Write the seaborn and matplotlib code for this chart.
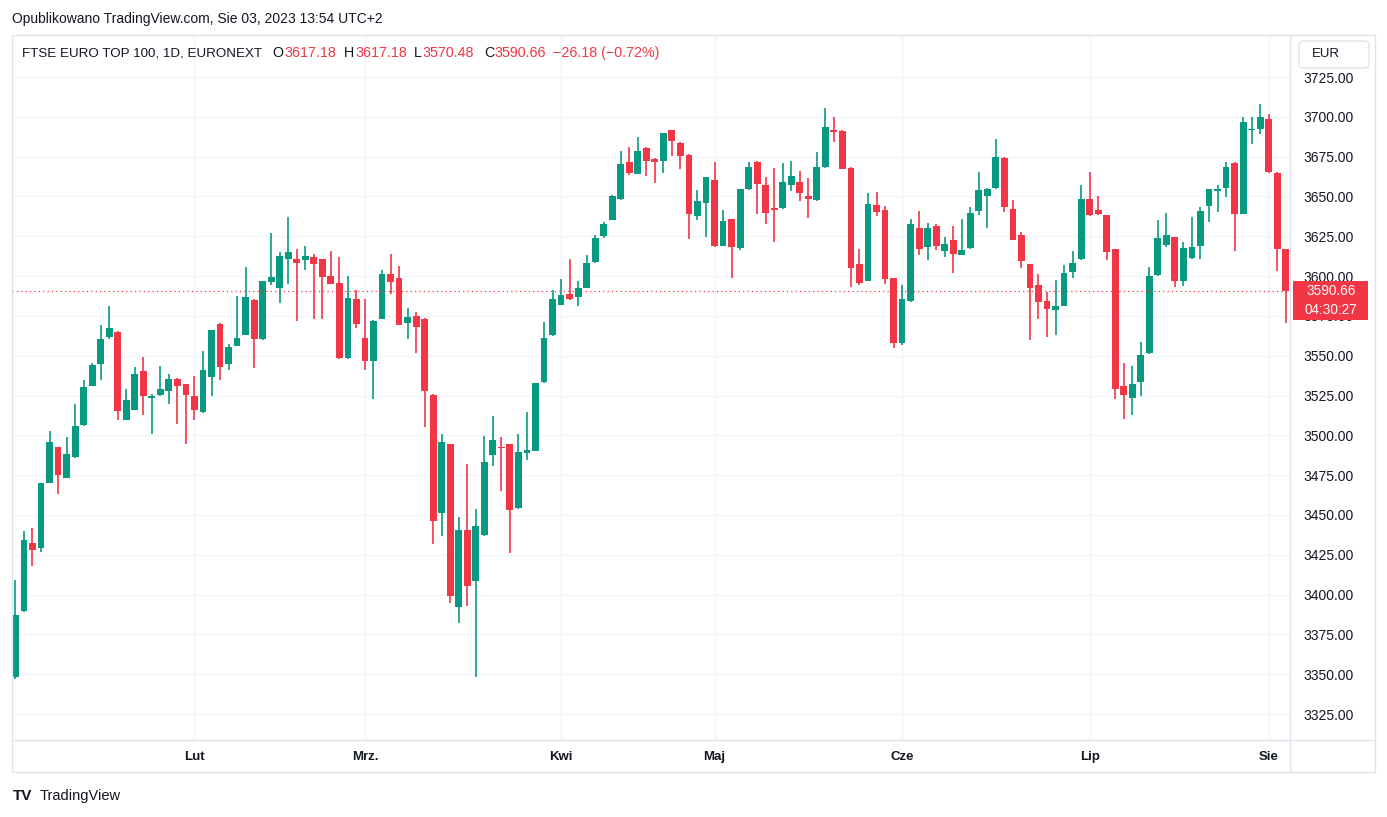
import numpy as np
import pandas as pd
import matplotlib
matplotlib.use("Agg")
import matplotlib.pyplot as plt
import seaborn as sns
from matplotlib.patches import Rectangle, FancyBboxPatch
from matplotlib.lines import Line2D

# daily OHLC, FTSE EURO TOP 100, Jan 3 - Aug 3 2023
opens = [3348, 3390, 3432.5, 3429, 3470, 3492.5, 3473, 3486.5, 3506.5, 3531,
         3545, 3562, 3565, 3509.6, 3516, 3540.6, 3523.3, 3525.6, 3527.7, 3535.6,
         3532, 3525, 3514.6, 3536.5, 3570, 3544.6, 3556.3, 3563, 3585, 3560.8,
         3596.5, 3592.7, 3610.8, 3610.6, 3610, 3612, 3610.6, 3600, 3595.6, 3548.3,
         3585.6, 3561.3, 3546.5, 3573.3, 3601.2, 3598.7, 3570.8, 3575, 3573, 3525.6,
         3451.5, 3494.4, 3392, 3440.6, 3408.4, 3437.7, 3487.7, 3492.5, 3494.4, 3454.6,
         3489, 3490.2, 3533.3, 3563.1, 3582.1, 3588.7, 3586.9, 3592.5, 3609, 3625,
         3635.2, 3648.3, 3671.9, 3664, 3680.6, 3673.7, 3672.1, 3691.9, 3683.7, 3676.2,
         3637.7, 3645.8, 3660.6, 3619, 3635.6, 3617.7, 3654.6, 3671.9, 3657.5, 3642.5,
         3642.7, 3657.1, 3659.4, 3650.6, 3647.7, 3668.3, 3691.9, 3691.2, 3668.1, 3607.5,
         3597.1, 3644.4, 3641.3, 3598.8, 3557.7, 3584.6, 3630, 3618.3, 3631.3, 3615.8,
         3622.5, 3613.3, 3617.7, 3640.8, 3650.2, 3655.2, 3674.4, 3641.9, 3625.6, 3607.5,
         3594.4, 3584.4, 3579, 3581.5, 3602.7, 3610.8, 3648.7, 3641.2, 3638.1, 3616.9,
         3531.3, 3523.3, 3533.5, 3552, 3600.8, 3619.6, 3624.4, 3597.1, 3611.5, 3619,
         3644, 3653.3, 3655.2, 3671.3, 3639, 3691.5, 3692.1, 3698.7, 3665, 3617.18]
highs = [3409, 3440, 3442, 3470, 3502.5, 3493, 3499, 3520, 3535, 3545.6,
         3569.4, 3581, 3565.5, 3529, 3543, 3549.4, 3526, 3543.8, 3538.8, 3536,
         3532.5, 3537, 3552.7, 3566, 3570.5, 3557.5, 3587.5, 3605.6, 3585.5, 3597,
         3627, 3615, 3637, 3617, 3618.7, 3613.8, 3611, 3615.6, 3612, 3600,
         3591.2, 3585.6, 3572.5, 3603.7, 3613.7, 3606.2, 3580, 3577.5, 3573.5, 3526,
         3500.6, 3494.8, 3448.8, 3482, 3453.8, 3499.6, 3512, 3498.8, 3494.8, 3500.6,
         3514.4, 3533.1, 3571.3, 3591.2, 3598.1, 3610.6, 3596.9, 3613.1, 3626, 3634,
         3651.2, 3678.7, 3681.2, 3687.5, 3681, 3674.4, 3690, 3692, 3684, 3676.5,
         3653.8, 3662.5, 3671.9, 3641.3, 3636, 3655, 3671.9, 3672, 3662.5, 3668.1,
         3671.3, 3672.5, 3666.3, 3661.3, 3678.1, 3705.6, 3700, 3691.5, 3668.5, 3616.9,
         3651.9, 3653.1, 3643.8, 3599, 3594.4, 3635.6, 3640.6, 3633.1, 3632.5, 3624.4,
         3631.3, 3635.6, 3643.1, 3665.6, 3655.6, 3686.2, 3674.8, 3647.5, 3627.5, 3607.8,
         3601.3, 3590, 3597.7, 3606.9, 3615.6, 3656.9, 3665.6, 3650, 3638.5, 3617.2,
         3545.6, 3543.8, 3558.6, 3605.6, 3635, 3639.4, 3624.8, 3621.3, 3636.9, 3643.1,
         3655, 3657.5, 3671.9, 3671.5, 3700, 3700, 3708.1, 3701.9, 3665.3, 3617.18]
lows = [3347, 3389, 3418, 3427, 3470, 3463, 3473, 3486, 3506, 3531,
        3534.6, 3560.6, 3509.6, 3509.6, 3516, 3512.7, 3501, 3525, 3520, 3507,
        3494.6, 3509.6, 3514, 3524.6, 3535, 3541.3, 3556, 3563, 3542, 3560,
        3594.4, 3583.3, 3595.2, 3572, 3604, 3573.3, 3573.3, 3595, 3548, 3548,
        3567.7, 3540.8, 3522.7, 3573, 3589, 3569.6, 3560.2, 3551.5, 3505.2, 3431.5,
        3437, 3394.6, 3382, 3392.7, 3348, 3437, 3480.8, 3465.2, 3426, 3454,
        3484.6, 3490, 3533, 3562.5, 3582, 3585, 3581.2, 3592.5, 3608, 3624,
        3635, 3648, 3663.3, 3664, 3662.7, 3658.3, 3664.6, 3675.2, 3667.1, 3623.3,
        3635.2, 3624.6, 3618.4, 3619, 3599, 3616.5, 3654, 3639, 3632.7, 3621.5,
        3642, 3653.3, 3647.1, 3636.5, 3647, 3668, 3684, 3667, 3593.3, 3594.6,
        3597, 3637.7, 3595.2, 3554.6, 3557, 3584, 3613.3, 3610.2, 3616.5, 3612.1,
        3602.1, 3613, 3617.1, 3638.3, 3630.2, 3655, 3640.2, 3622.7, 3605.2, 3559.6,
        3573.3, 3561.5, 3563.3, 3581, 3599, 3610, 3638, 3638.1, 3610.2, 3522.7,
        3510.2, 3512.7, 3525, 3551, 3600, 3618.3, 3593.3, 3594, 3611, 3610.8,
        3634, 3640.2, 3649.6, 3615.8, 3639, 3682.7, 3689, 3665, 3603.3, 3570.48]
closes = [3387, 3434, 3428, 3470, 3496, 3475, 3488, 3506, 3530.5, 3544.4,
          3560.6, 3567.5, 3515, 3522, 3538.8, 3525, 3524.4, 3528.8, 3535.6, 3530.8,
          3525.6, 3515.8, 3541.3, 3566, 3542.7, 3555.6, 3561.3, 3587, 3560.8, 3597,
          3599.4, 3612.5, 3615, 3608.3, 3612.5, 3607.7, 3599.6, 3595.2, 3548.3, 3586.2,
          3570.2, 3546.5, 3571.9, 3601.2, 3596.5, 3569.6, 3574.4, 3568.3, 3527.7, 3446.5,
          3495.6, 3399, 3440.6, 3405.2, 3443, 3483, 3497, 3492, 3453.3, 3489.4,
          3490.6, 3533.1, 3561.3, 3585.6, 3588.1, 3585.6, 3592.5, 3608.1, 3624, 3633,
          3650, 3670.6, 3664.6, 3678.7, 3672.1, 3671.5, 3690, 3684.6, 3675.2, 3639,
          3646.9, 3662.5, 3619, 3634.4, 3618.3, 3655, 3668.8, 3657.7, 3639.6, 3641.5,
          3658.8, 3663.1, 3652.1, 3648.3, 3668.8, 3693.7, 3690.8, 3667.1, 3605.2, 3595.8,
          3645, 3640.2, 3598.1, 3557.7, 3585.6, 3632.5, 3617.1, 3630, 3619, 3620,
          3613.8, 3616.3, 3639.4, 3653.8, 3654.4, 3675, 3643.3, 3622.7, 3609.6, 3592.7,
          3584, 3579.6, 3581.3, 3601.9, 3608.1, 3648.7, 3638.3, 3638.7, 3615.2, 3529,
          3525.2, 3532.5, 3550.4, 3600, 3623.8, 3625.6, 3597.1, 3617.5, 3618.1, 3640.6,
          3655, 3655, 3668.8, 3639, 3696.9, 3692.5, 3700, 3665.2, 3617.1, 3590.66]

month_labels = ["Lut", "Mrz.", "Kwi", "Maj", "Cze", "Lip", "Sie"]
month_starts = [21, 41, 64, 82, 104, 126, 147]   # candle index of first session
price_ticks = list(range(3325, 3726, 25))
last_price = 3590.66

UP = "#089981"
DOWN = "#F23645"
TXT = "#131722"
GRID = "#f0f3fa"
BORDER = "#e0e3eb"

df = pd.DataFrame({"open": opens, "high": highs, "low": lows, "close": closes})
df["i"] = np.arange(len(df))
df["color"] = np.where(df["close"] >= df["open"], UP, DOWN)
df["bottom"] = df[["open", "close"]].min(axis=1)
df["height"] = (df["close"] - df["open"]).abs().clip(lower=0.7)

sns.set_style("white")
plt.rcParams["font.family"] = ["Liberation Sans", "DejaVu Sans"]

W, H = 1387, 817
fig = plt.figure(figsize=(W / 100, H / 100), dpi=100)


def fx(x):
    return x / W


def fy(y):
    return 1 - y / H


ax = fig.add_axes([fx(12), fy(740), fx(1290) - fx(12), fy(35) - fy(740)])

# grid
for v in price_ticks:
    ax.axhline(v, color=GRID, lw=1, zorder=0)
for m in month_starts:
    ax.axvline(m, color=GRID, lw=1, zorder=0)

# candles
ax.vlines(df["i"], df["low"], df["high"], colors=df["color"], lw=1.2, zorder=2)
ax.bar(df["i"], df["height"], bottom=df["bottom"], width=0.8,
       color=df["color"], linewidth=0, zorder=3)

ax.axhline(last_price, color=DOWN, lw=0.9, ls=(0, (1, 2.5)), zorder=4)

ax.set_xlim(-0.4, 149.5)
ax.set_ylim(3308.7, 3751.4)
for s in ax.spines.values():
    s.set_visible(False)

ax.yaxis.tick_right()
ax.set_yticks(price_ticks)
ax.set_yticklabels([f"{v:.2f}" for v in price_ticks])
ax.tick_params(axis="y", length=0, pad=9.5, labelsize=10, labelcolor=TXT)
ax.set_xticks(month_starts)
ax.set_xticklabels(month_labels, fontweight="bold")
ax.tick_params(axis="x", length=0, pad=8, labelsize=9.5, labelcolor=TXT)

# frame lines
fig.add_artist(Rectangle((fx(12), fy(772)), fx(1375) - fx(12), fy(35) - fy(772),
                         transform=fig.transFigure, fill=False, edgecolor=BORDER, lw=1))
fig.add_artist(Line2D([fx(1290), fx(1290)], [fy(35), fy(772)],
                      transform=fig.transFigure, color=BORDER, lw=1))
fig.add_artist(Line2D([fx(12), fx(1375)], [fy(740), fy(740)],
                      transform=fig.transFigure, color=BORDER, lw=1))

# header texts
fig.text(fx(12), fy(19), "Opublikowano TradingView.com, Sie 03, 2023 13:54 UTC+2",
         fontsize=10, color=TXT, va="center")
fig.text(fx(22), fy(53), "FTSE EURO TOP 100, 1D, EURONEXT", fontsize=9.6,
         color=TXT, va="center")
legend_parts = [(272, "O", TXT), (284, "3617.18", DOWN),
                (344, "H", TXT), (355, "3617.18", DOWN),
                (414, "L", TXT), (422, "3570.48", DOWN),
                (484, "C", TXT), (494, "3590.66", DOWN),
                (553, "\u221226.18 (\u22120.72%)", DOWN)]
for x, s, c in legend_parts:
    fig.text(fx(x), fy(53), s, fontsize=10.3, color=c, va="center")

# currency box
fig.add_artist(FancyBboxPatch((fx(1299), fy(68)), fx(70), fy(41) - fy(68),
                              boxstyle="round,pad=0,rounding_size=0.004",
                              transform=fig.transFigure, facecolor="white",
                              edgecolor=BORDER, lw=1))
fig.text(fx(1326), fy(54), "EUR", fontsize=9.5, color=TXT, ha="center", va="center")

# last price badge (covers the 3575.00 scale label, as on the original)
fig.add_artist(Rectangle((fx(1293), fy(320)), fx(75), fy(281) - fy(320),
                         transform=fig.transFigure, facecolor=DOWN, edgecolor="none"))
fig.text(fx(1331), fy(291), f"{last_price:.2f}", fontsize=9.8, color="white",
         ha="center", va="center")
fig.text(fx(1331), fy(310), "04:30:27", fontsize=9.8, color="white",
         ha="center", va="center")

# footer
fig.text(fx(13), fy(796), "TV", fontsize=11, fontweight="bold", color=TXT, va="center")
fig.text(fx(40), fy(796), "TradingView", fontsize=10.5, color=TXT, va="center")

fig.savefig("out.png", dpi=100, facecolor="white")
